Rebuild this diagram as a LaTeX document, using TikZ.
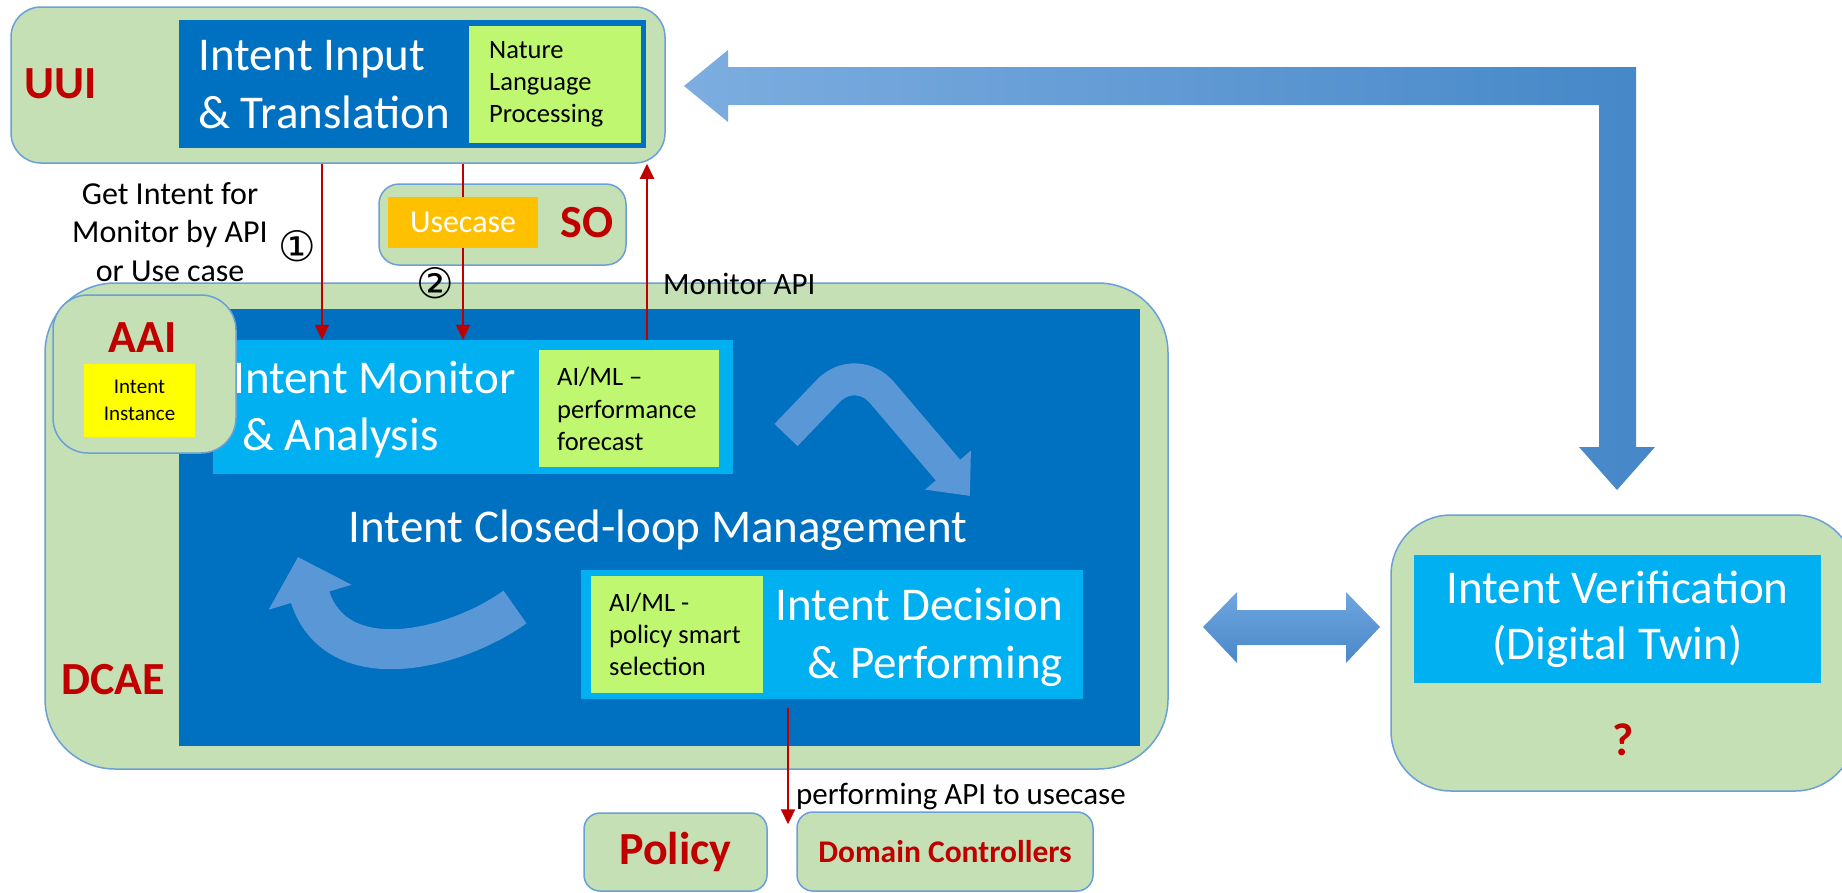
\documentclass[tikz,border=0pt]{standalone}
\usepackage{fontspec}
\setmainfont{Carlito}
\newfontfamily\dejavu{DejaVu Sans}
\usetikzlibrary{arrows.meta}
\definecolor{lgreen}{HTML}{C5E0B4}
\definecolor{bord}{HTML}{6A9FD8}
\definecolor{dblue}{HTML}{0070C0}
\definecolor{lblue}{HTML}{00B0F0}
\definecolor{ngreen}{HTML}{BFF870}
\definecolor{orng}{HTML}{FFC000}
\definecolor{ylw}{HTML}{FFFF00}
\definecolor{dred}{HTML}{C00000}
\definecolor{arrL}{HTML}{7DADE0}
\definecolor{arrR}{HTML}{4587C8}
\definecolor{dtop}{HTML}{6EA6E0}
\definecolor{dbot}{HTML}{4A88C8}
\definecolor{curv}{HTML}{5A97D6}
\begin{document}
\begin{tikzpicture}[x=1pt,y=-1pt,
  gbox/.style={draw=bord,line width=1.5pt,fill=lgreen,inner sep=0pt},
  rect/.style={inner sep=0pt,draw=none},
  txt/.style={inner sep=0pt,text=#1},
  redarr/.style={draw=dred,line width=2pt,-{Triangle[length=15pt,width=14pt]}},
  redln/.style={draw=dred,line width=2pt},
  curvarrow/.style={draw=curv},
]
\useasboundingbox (0,0) rectangle (1842,892);

% big L-shaped arrow UUI <-> verification
\shade[left color=arrL,right color=arrR] (684,86) -- (728,50) -- (728,67) -- (1636,67) -- (1636,447) -- (1655,447) -- (1617,490) -- (1579,447) -- (1599,447) -- (1599,105) -- (728,105) -- (728,122) -- cycle;

% UUI
\node[gbox,rounded corners=30pt,minimum width=654pt,minimum height=156pt] (uui) at (338,85) {};
\node[rect,fill=dblue,minimum width=467pt,minimum height=128pt] (input) at (412.5,84) {};
\node[rect,fill=ngreen,minimum width=172pt,minimum height=117pt] (nlp) at (555,84.5) {};
\node[txt=white,font=\fontsize{47}{58}\selectfont,align=left,anchor=west] (inputtxt) at (198,85) {Intent Input\\\& Translation};
\node[txt=black,font=\fontsize{26.5}{32}\selectfont,align=left,anchor=west] (nlptxt) at (489,84) {Nature\\Language\\Processing};
\node[txt=dred,font=\fontsize{46}{54}\selectfont\bfseries] (uuitxt) at (61,84) {UUI};

% SO
\node[gbox,rounded corners=20pt,minimum width=247pt,minimum height=81pt] (so) at (502.5,224.5) {};
\node[rect,fill=orng,minimum width=150pt,minimum height=51pt,text=white,font=\fontsize{32}{38}\selectfont] (usecase) at (463,222.5) {Usecase};
\node[txt=dred,font=\fontsize{46}{54}\selectfont\bfseries] (sotxt) at (587,223) {SO};

% DCAE
\node[gbox,rounded corners=70pt,minimum width=1123pt,minimum height=486pt] (dcae) at (606.5,526) {};
\node[rect,fill=dblue,minimum width=961pt,minimum height=437pt] (inner) at (659.5,527.5) {};
\node[rect,fill=lblue,minimum width=520pt,minimum height=134pt] (monitor) at (473,407) {};
\node[rect,fill=ngreen,minimum width=180pt,minimum height=117pt] (perf) at (629,408.5) {};
\node[txt=white,font=\fontsize{47}{57}\selectfont,align=left,anchor=west] (montxt) at (233,410) {Intent Monitor\\\hspace*{9pt}\& Analysis};
\node[txt=black,font=\fontsize{26.5}{32.5}\selectfont,align=left,anchor=west] (perftxt) at (557,409) {AI/ML --\\performance\\forecast};

% AAI
\node[gbox,rounded corners=35pt,minimum width=183pt,minimum height=158pt] (aai) at (144.5,374) {};
\node[txt=dred,font=\fontsize{46}{54}\selectfont\bfseries] (aaitxt) at (143,338) {AAI};
\node[rect,fill=ylw,minimum width=111pt,minimum height=73pt,align=center,font=\fontsize{21}{27}\selectfont] (inst) at (139.5,400.5) {Intent\\Instance};

% closed loop
\node[txt=white,font=\fontsize{47}{56}\selectfont] (looptxt) at (658,530) {Intent Closed-loop Management};
\draw[curvarrow,line width=32pt,rounded corners=40pt,-{Triangle[length=34pt,width=58pt]}] (786,435) -- (856,362) -- (970,496);
\draw[curvarrow,line width=40pt,-{Triangle[length=42pt,width=84pt]}] (515,607) .. controls (455,650) and (335,680) .. (298,557);

% decision
\node[rect,fill=lblue,minimum width=502pt,minimum height=129pt] (decision) at (832,634.5) {};
\node[rect,fill=ngreen,minimum width=172pt,minimum height=117pt] (aipol) at (677,634.5) {};
\node[txt=black,font=\fontsize{26.5}{32}\selectfont,align=left,anchor=west] (aipoltxt) at (609,634) {AI/ML -\\policy smart\\selection};
\node[txt=white,font=\fontsize{47}{58}\selectfont,align=right,anchor=east] (dectxt) at (1063,637) {Intent Decision\\\& Performing};
\node[txt=dred,font=\fontsize{46}{54}\selectfont\bfseries] (dcaetxt) at (113,680) {DCAE};

% policy / domain controllers
\node[gbox,rounded corners=16pt,minimum width=183pt,minimum height=78pt,text=dred,font=\fontsize{46}{54}\selectfont\bfseries] (policy) at (675.5,852) {Policy};
\node[gbox,rounded corners=16pt,minimum width=296pt,minimum height=79pt,text=dred,font=\fontsize{31.5}{38}\selectfont\bfseries] (domain) at (945,851.5) {Domain Controllers};

% verification
\node[gbox,rounded corners=60pt,minimum width=464pt,minimum height=276pt] (verif) at (1623,653) {};
\node[rect,fill=lblue,minimum width=407pt,minimum height=128pt,text=white,align=center,font=\fontsize{47}{56}\selectfont] (veriftxt) at (1617.5,619) {Intent Verification\\(Digital Twin)};
\node[txt=dred,font=\fontsize{46}{54}\selectfont\bfseries] (qtxt) at (1623,740) {?};

% double arrow DCAE <-> verification
\shade[top color=dtop,bottom color=dbot] (1203,627) -- (1237,592) -- (1237,610) -- (1346,610) -- (1346,592) -- (1380,627) -- (1346,663) -- (1346,645) -- (1237,645) -- (1237,663) -- cycle;

% red connectors
\coordinate (c1) at (322,0);
\coordinate (c3) at (647,0);
\coordinate (c4) at (788,0);
\draw[redarr] (uui.south -| c1) -- (monitor.north -| c1);
\draw[redln] (uui.south -| usecase.north) -- (usecase.north);
\draw[redarr] (usecase.south) -- (monitor.north -| usecase.south);
\draw[redarr] (monitor.north -| c3) -- (uui.south -| c3);
\draw[redarr] ([yshift=-9pt]decision.south -| c4) -- ([yshift=-12pt]policy.north -| c4);

% labels
\node[txt=black,font=\fontsize{32}{38.5}\selectfont,align=center] (getlbl) at (170,232) {Get Intent for\\Monitor by API\\or Use case};
\node[txt=black,font=\dejavu\fontsize{42}{46}\selectfont] (n1) at (297,246) {①};
\node[txt=black,font=\dejavu\fontsize{42}{46}\selectfont] (n2) at (435,283) {②};
\node[txt=black,font=\fontsize{31}{38}\selectfont,anchor=west] (monapi) at (663,284) {Monitor API};
\node[txt=black,font=\fontsize{31}{38}\selectfont,anchor=west] (perfapi) at (796,796) {performing API to usecase};
\end{tikzpicture}
\end{document}
